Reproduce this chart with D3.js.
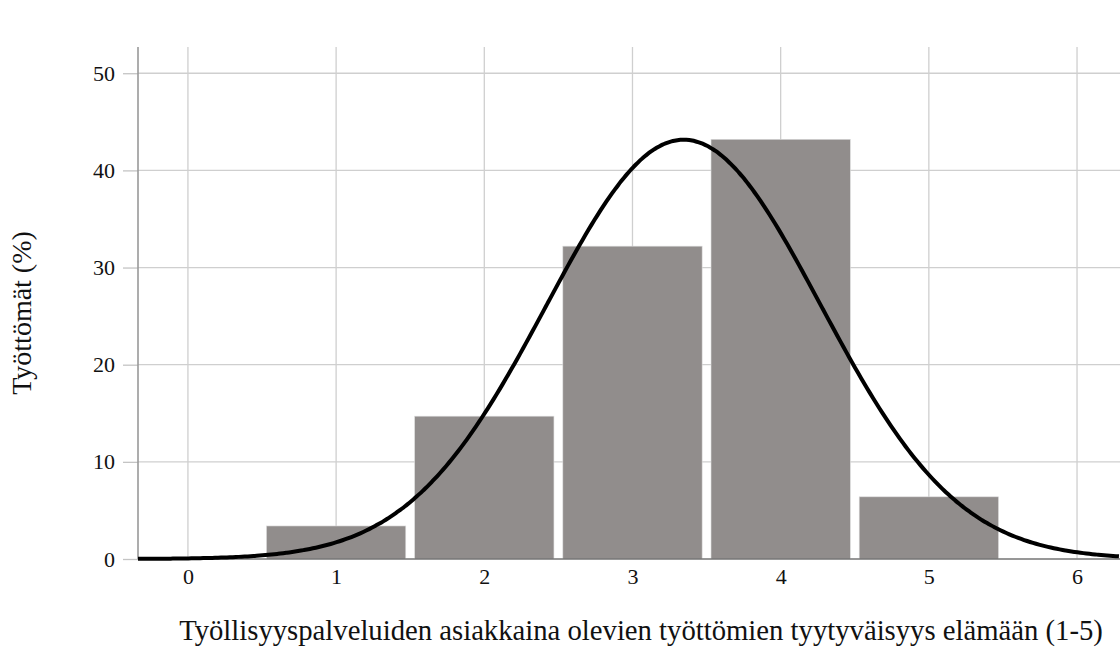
<!DOCTYPE html>
<html>
<head>
<meta charset="utf-8">
<script src="https://cdn.jsdelivr.net/npm/d3@7"></script>
<style>
  body { margin: 0; background: #fff; }
  text { font-family: "Liberation Serif", "DejaVu Serif", serif; fill: #111; }
</style>
</head>
<body>
<div id="graphic"></div>
<script>
var categories = [1, 2, 3, 4, 5];
var percents = [3.4, 14.7, 32.2, 43.2, 6.4];
var xTicks = [0, 1, 2, 3, 4, 5, 6];
var yTicks = [0, 10, 20, 30, 40, 50];
var xLabel = "Työllisyyspalveluiden asiakkaina olevien työttömien tyytyväisyys elämään (1-5)";
var yLabel = "Työttömät (%)";

var width = 1120, height = 648;
var plotLeft = 138, plotTop = 47, plotBottom = 559;

var svg = d3.select("#graphic").append("svg").attr("width", width).attr("height", height);

var x = d3.scaleLinear().domain([-0.337, 6.29]).range([plotLeft, width]);
var y = d3.scaleLinear().domain([0, 52.7]).range([plotBottom, plotTop]);

// grid
svg.append("g").selectAll("line").data(xTicks).join("line")
  .attr("x1", d => x(d)).attr("x2", d => x(d))
  .attr("y1", plotTop).attr("y2", plotBottom)
  .attr("stroke", "#cfcfcf").attr("stroke-width", 1.3);
svg.append("g").selectAll("line").data(yTicks).join("line")
  .attr("x1", plotLeft).attr("x2", width)
  .attr("y1", d => y(d)).attr("y2", d => y(d))
  .attr("stroke", "#cfcfcf").attr("stroke-width", 1.3);

// bars
var bw = 0.94;
svg.append("g").selectAll("rect").data(categories).join("rect")
  .attr("x", d => x(d - bw / 2))
  .attr("width", d => x(d + bw / 2) - x(d - bw / 2))
  .attr("y", (d, i) => y(percents[i]))
  .attr("height", (d, i) => plotBottom - y(percents[i]))
  .attr("fill", "#918d8c")
  .attr("stroke", "#dcdcdc").attr("stroke-width", 0.6);

// axes
var yAxis = svg.append("g").attr("transform", "translate(" + plotLeft + ",0)")
  .call(d3.axisLeft(y).tickValues(yTicks).tickSize(15).tickPadding(8));
yAxis.select(".domain").remove();
yAxis.selectAll(".tick line").attr("stroke", "#c4c4c4").attr("stroke-width", 1.3);
yAxis.selectAll("text").style("font-size", "22px").attr("fill", "#111");

var xAxis = svg.append("g").attr("transform", "translate(0," + plotBottom + ")")
  .call(d3.axisBottom(x).tickValues(xTicks).tickFormat(d3.format("d")).tickSize(0).tickPadding(9));
xAxis.select(".domain").remove();
xAxis.selectAll("text").style("font-size", "22px").attr("fill", "#111");

svg.append("line").attr("x1", plotLeft).attr("x2", plotLeft).attr("y1", plotTop).attr("y2", plotBottom)
  .attr("stroke", "#999").attr("stroke-width", 1.6);
svg.append("line").attr("x1", plotLeft).attr("x2", width).attr("y1", plotBottom).attr("y2", plotBottom)
  .attr("stroke", "#555").attr("stroke-width", 1.2);

// normal curve fitted to the distribution
var total = d3.sum(percents);
var mean = d3.sum(categories, (d, i) => d * percents[i]) / total;
var sd = Math.sqrt(d3.sum(categories, (d, i) => (d - mean) * (d - mean) * percents[i]) / total);
var curveX = d3.range(-0.337, 6.3, 0.02);
var line = d3.line()
  .x(d => x(d))
  .y(d => y(total / (sd * Math.sqrt(2 * Math.PI)) * Math.exp(-0.5 * Math.pow((d - mean) / sd, 2))))
  .curve(d3.curveBasis);
svg.append("path").datum(curveX).attr("d", line)
  .attr("fill", "none").attr("stroke", "#000").attr("stroke-width", 4);

// labels
svg.append("text").attr("x", 641).attr("y", 640).attr("text-anchor", "middle")
  .style("font-size", "28.7px").text(xLabel);
svg.append("text").attr("transform", "translate(31,313) rotate(-90)")
  .attr("text-anchor", "middle").style("font-size", "28px").text(yLabel);
</script>
</body>
</html>
